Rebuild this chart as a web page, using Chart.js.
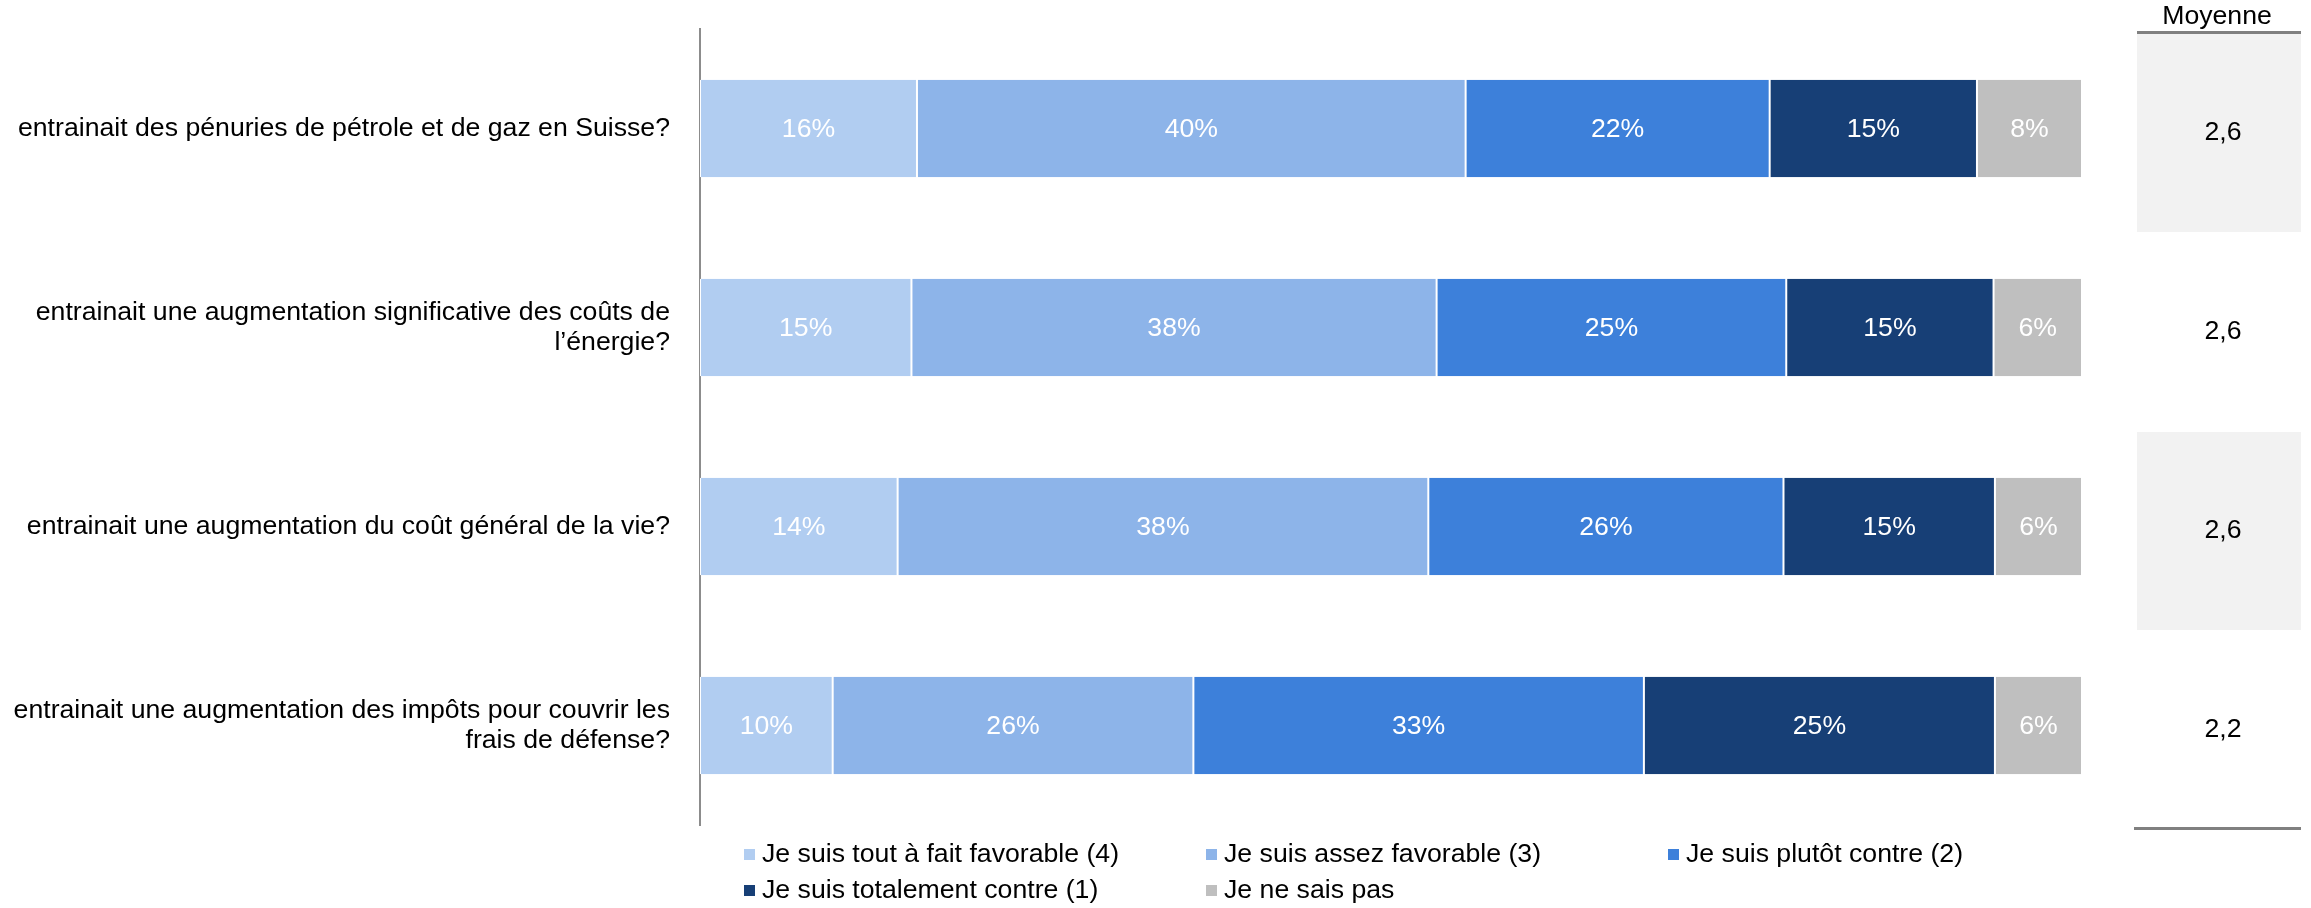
<!DOCTYPE html>
<html>
<head>
<meta charset="utf-8">
<script src="https://cdn.jsdelivr.net/npm/chart.js@4.4.1/dist/chart.umd.min.js"></script>
<style>
  html, body { margin: 0; padding: 0; background: #fff; }
</style>
</head>
<body>
<canvas id="chart" width="2311" height="908"></canvas>
<script>
// questions (y categories)
var questions = [
  "entrainait des pénuries de pétrole et de gaz en Suisse?",
  ["entrainait une augmentation significative des coûts de", "l’énergie?"],
  "entrainait une augmentation du coût général de la vie?",
  ["entrainait une augmentation des impôts pour couvrir les", "frais de défense?"]
];

var seriesNames = [
  "Je suis tout à fait favorable (4)",
  "Je suis assez favorable (3)",
  "Je suis plutôt contre (2)",
  "Je suis totalement contre (1)",
  "Je ne sais pas"
];
var seriesColors = ["#B1CDF1", "#8DB4E9", "#3D80DA", "#173F76", "#BFBFBF"];

// shares in % (labels show the rounded value)
var toutFait     = [15.7, 15.3, 14.3, 9.6];
var assez        = [39.7, 38.0, 38.4, 26.1];
var plutotContre = [22.0, 25.3, 25.7, 32.6];
var totalement   = [15.0, 15.0, 15.3, 25.4];
var neSaisPas    = [7.6, 6.4, 6.3, 6.3];

var moyenne = [2.6, 2.6, 2.6, 2.2];

var FONT = "Liberation Sans, Arial, sans-serif";
var FSIZE = 26.67;
Chart.defaults.font.family = FONT;
Chart.defaults.font.size = FSIZE;
Chart.defaults.color = "#000";

var allSeries = [toutFait, assez, plutotContre, totalement, neSaisPas];
var datasets = allSeries.map(function (vals, i) {
  return {
    label: seriesNames[i],
    data: vals,
    backgroundColor: seriesColors[i],
    borderColor: "#ffffff",
    borderWidth: { left: 1, right: 1, top: 0, bottom: 0 },
    borderSkipped: false,
    barPercentage: 0.49,
    categoryPercentage: 1
  };
});

// white % labels in the middle of each segment
var valueLabels = {
  id: "valueLabels",
  afterDatasetsDraw: function (chart) {
    var ctx = chart.ctx;
    ctx.save();
    ctx.font = FSIZE + "px " + FONT;
    ctx.fillStyle = "#ffffff";
    ctx.textAlign = "center";
    ctx.textBaseline = "middle";
    chart.data.datasets.forEach(function (ds, i) {
      chart.getDatasetMeta(i).data.forEach(function (bar, j) {
        var p = bar.getCenterPoint();
        ctx.fillText(Math.round(ds.data[j]) + "%", p.x, p.y + 1);
      });
    });
    ctx.restore();
  }
};

// "Moyenne" column on the right
var moyenneColumn = {
  id: "moyenneColumn",
  beforeDatasetsDraw: function (chart) {
    var ctx = chart.ctx, y = chart.scales.y;
    var x0 = 2137, x1 = 2301;
    var step = y.getPixelForValue(1) - y.getPixelForValue(0);
    ctx.save();
    ctx.fillStyle = "#F2F2F2";
    for (var i = 0; i < moyenne.length; i += 2) {
      var yc = y.getPixelForValue(i);
      ctx.fillRect(x0, yc - step / 2 + 5, x1 - x0, step - 1);
    }
    ctx.strokeStyle = "#808080";
    ctx.lineWidth = 3;
    ctx.beginPath();
    ctx.moveTo(x0, 32.5); ctx.lineTo(x1, 32.5);
    ctx.moveTo(2134, 828.5); ctx.lineTo(x1, 828.5);
    ctx.stroke();
    ctx.font = FSIZE + "px " + FONT;
    ctx.fillStyle = "#000";
    ctx.textAlign = "center";
    ctx.textBaseline = "middle";
    ctx.fillText("Moyenne", (x0 + x1) / 2 - 2, 17);
    moyenne.forEach(function (m, i) {
      ctx.fillText(m.toFixed(1).replace(".", ","), (x0 + x1) / 2 + 4, y.getPixelForValue(i) + 4);
    });
    ctx.restore();
  }
};

// legend laid out in a fixed grid of 3 columns
var gridLegend = {
  id: "gridLegend",
  afterDraw: function (chart) {
    var ctx = chart.ctx;
    var cols = [744, 1206, 1668], rows = [855, 891];
    ctx.save();
    ctx.font = FSIZE + "px " + FONT;
    ctx.textBaseline = "middle";
    ctx.textAlign = "left";
    chart.data.datasets.forEach(function (ds, i) {
      var x = cols[i % 3], yy = rows[Math.floor(i / 3)];
      ctx.fillStyle = ds.backgroundColor;
      ctx.fillRect(x, yy - 6, 11, 11);
      ctx.fillStyle = "#000";
      ctx.fillText(ds.label, x + 18, yy);
    });
    ctx.restore();
  }
};

new Chart(document.getElementById("chart").getContext("2d"), {
  type: "bar",
  data: { labels: questions, datasets: datasets },
  options: {
    indexAxis: "y",
    responsive: false,
    animation: false,
    layout: { padding: { top: 29, bottom: 83, right: 229, left: 0 } },
    scales: {
      x: { stacked: true, min: 0, max: 100, display: false },
      y: {
        stacked: true,
        grid: { display: false },
        border: { display: true, color: "#8C8C8C", width: 2 },
        ticks: { padding: 22, color: "#000", font: { size: FSIZE, lineHeight: 1.13 } },
        afterFit: function (s) {
          s.width = 700;
          s.paddingTop = 0;
          s.paddingBottom = 0;
        }
      }
    },
    plugins: {
      legend: { display: false },
      tooltip: { enabled: false }
    }
  },
  plugins: [valueLabels, moyenneColumn, gridLegend]
});
</script>
</body>
</html>
